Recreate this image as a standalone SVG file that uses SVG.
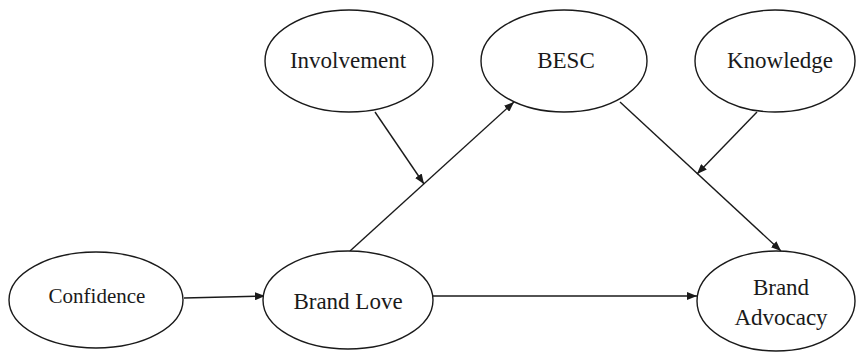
<svg xmlns="http://www.w3.org/2000/svg" width="856" height="352" viewBox="0 0 856 352">
<style>
.node ellipse{fill:#fff;stroke:#1a1a1a;stroke-width:1.4}
.node text{font-family:"Liberation Serif","Times New Roman",serif;font-size:23px;fill:#1a1a1a;text-anchor:middle}
.edges line{stroke:#1a1a1a;stroke-width:1.4;fill:none}
</style>
<defs>
<marker id="ah" viewBox="0 0 10 8" refX="10" refY="4" markerWidth="10" markerHeight="8" markerUnits="userSpaceOnUse" orient="auto">
<path d="M0,0 L10,4 L0,8 Z" fill="#1a1a1a"/>
</marker>
</defs>
<rect width="856" height="352" fill="#fff"/>
<g class="edges">
<line x1="184" y1="298" x2="265" y2="296" marker-end="url(#ah)"/>
<line x1="350" y1="251" x2="514" y2="102" marker-end="url(#ah)"/>
<line x1="375" y1="112" x2="424" y2="184" marker-end="url(#ah)"/>
<line x1="620" y1="102" x2="781" y2="251" marker-end="url(#ah)"/>
<line x1="757" y1="112" x2="697" y2="174" marker-end="url(#ah)"/>
<line x1="433" y1="296" x2="697" y2="296" marker-end="url(#ah)"/>
</g>
<g id="confidence" class="node">
<ellipse cx="96" cy="300" rx="87" ry="48"/>
<text x="97" y="303" style="font-size:21px">Confidence</text>
</g>
<g id="brand-love" class="node">
<ellipse cx="348" cy="300" rx="85" ry="49"/>
<text x="348" y="309">Brand Love</text>
</g>
<g id="involvement" class="node">
<ellipse cx="349" cy="61" rx="84" ry="51"/>
<text x="348" y="68">Involvement</text>
</g>
<g id="besc" class="node">
<ellipse cx="564" cy="61" rx="83" ry="51"/>
<text x="566" y="68">BESC</text>
</g>
<g id="knowledge" class="node">
<ellipse cx="775" cy="61" rx="80" ry="51"/>
<text x="780" y="68">Knowledge</text>
</g>
<g id="brand-advocacy" class="node">
<ellipse cx="776" cy="301" rx="79" ry="50"/>
<text x="781" y="295">Brand</text>
<text x="781" y="325">Advocacy</text>
</g>
</svg>
